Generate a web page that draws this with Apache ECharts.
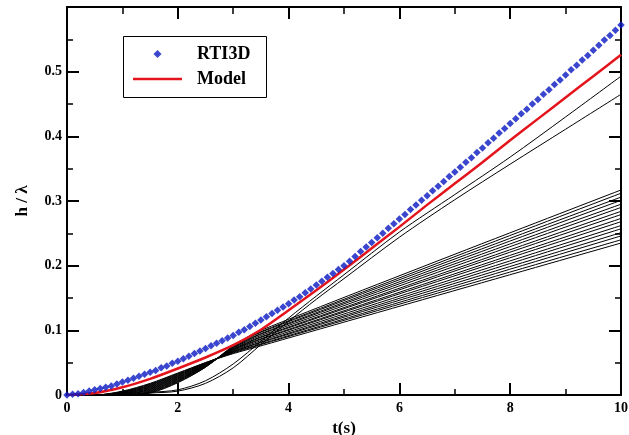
<!DOCTYPE html>
<html>
<head>
<meta charset="utf-8">
<script src="https://cdn.jsdelivr.net/npm/echarts@6/dist/echarts.min.js"></script>
<style>
  html, body { margin: 0; padding: 0; background: #fff; }
  #chart { width: 629px; height: 435px; }
</style>
</head>
<body>
<div id="chart"></div>
<script>
// RTI3D simulation: mixing-zone height h/λ sampled every 0.1 s
const tRTI = [
  0.0, 0.1, 0.2, 0.3, 0.4, 0.5, 0.6, 0.7, 0.8, 0.9,
  1.0, 1.1, 1.2, 1.3, 1.4, 1.5, 1.6, 1.7, 1.8, 1.9,
  2.0, 2.1, 2.2, 2.3, 2.4, 2.5, 2.6, 2.7, 2.8, 2.9,
  3.0, 3.1, 3.2, 3.3, 3.4, 3.5, 3.6, 3.7, 3.8, 3.9,
  4.0, 4.1, 4.2, 4.3, 4.4, 4.5, 4.6, 4.7, 4.8, 4.9,
  5.0, 5.1, 5.2, 5.3, 5.4, 5.5, 5.6, 5.7, 5.8, 5.9,
  6.0, 6.1, 6.2, 6.3, 6.4, 6.5, 6.6, 6.7, 6.8, 6.9,
  7.0, 7.1, 7.2, 7.3, 7.4, 7.5, 7.6, 7.7, 7.8, 7.9,
  8.0, 8.1, 8.2, 8.3, 8.4, 8.5, 8.6, 8.7, 8.8, 8.9,
  9.0, 9.1, 9.2, 9.3, 9.4, 9.5, 9.6, 9.7, 9.8, 9.9,
  10.0
];
const hRTI = [
  0.000, 0.001, 0.002, 0.004, 0.006, 0.008, 0.010, 0.012, 0.014, 0.017,
  0.020, 0.023, 0.026, 0.029, 0.032, 0.035, 0.038, 0.042, 0.045, 0.049,
  0.052, 0.056, 0.060, 0.064, 0.068, 0.072, 0.076, 0.080, 0.084, 0.088,
  0.092, 0.097, 0.101, 0.106, 0.111, 0.116, 0.121, 0.126, 0.131, 0.136,
  0.141, 0.147, 0.152, 0.158, 0.164, 0.170, 0.176, 0.182, 0.188, 0.194,
  0.200, 0.207, 0.214, 0.222, 0.229, 0.236, 0.243, 0.250, 0.258, 0.265,
  0.272, 0.279, 0.287, 0.294, 0.301, 0.308, 0.316, 0.323, 0.330, 0.338,
  0.345, 0.352, 0.360, 0.367, 0.375, 0.382, 0.390, 0.397, 0.405, 0.412,
  0.420, 0.427, 0.435, 0.442, 0.450, 0.457, 0.465, 0.472, 0.480, 0.487,
  0.495, 0.503, 0.510, 0.518, 0.525, 0.533, 0.541, 0.549, 0.556, 0.564,
  0.572
];

// Model prediction
const tModel = [0, 0.5, 1, 1.5, 2, 2.5, 3, 3.5, 4, 4.5, 5, 5.5, 6, 6.5, 7, 7.5, 8, 8.5, 9, 9.5, 10];
const hModel = [0.000, 0.003, 0.012, 0.025, 0.041, 0.058, 0.077, 0.101, 0.131, 0.162, 0.194,
                0.227, 0.260, 0.294, 0.327, 0.360, 0.394, 0.427, 0.460, 0.493, 0.526];

// Two fast-growing individual runs
const tUpper = [0, 1, 1.5, 2, 2.5, 3, 3.5, 4, 4.5, 5, 6, 7, 8, 9, 10];
const hUpperA = [0, 0, 0.004, 0.008, 0.022, 0.048, 0.083, 0.119, 0.153, 0.186, 0.252, 0.310, 0.368, 0.430, 0.493];
const hUpperB = [0, 0, 0.003, 0.006, 0.018, 0.042, 0.078, 0.114, 0.148, 0.180, 0.244, 0.302, 0.357, 0.411, 0.465];

// Bundle of slower runs
const tBundle = [0, 0.5, 1, 1.5, 2, 2.5, 3, 3.5, 10];
const hBundle = [
  [0, 0, 0.006, 0.018, 0.034, 0.050, 0.064, 0.076, 0.235],
  [0, 0, 0.005, 0.017, 0.033, 0.050, 0.065, 0.078, 0.240],
  [0, 0, 0.005, 0.016, 0.032, 0.049, 0.066, 0.079, 0.246],
  [0, 0, 0.004, 0.015, 0.031, 0.049, 0.067, 0.081, 0.251],
  [0, 0, 0.004, 0.014, 0.030, 0.048, 0.067, 0.082, 0.257],
  [0, 0, 0.003, 0.013, 0.029, 0.048, 0.068, 0.084, 0.262],
  [0, 0, 0.003, 0.012, 0.028, 0.047, 0.069, 0.086, 0.268],
  [0, 0, 0.002, 0.011, 0.027, 0.047, 0.070, 0.087, 0.273],
  [0, 0, 0.002, 0.010, 0.026, 0.046, 0.070, 0.089, 0.279],
  [0, 0, 0.001, 0.009, 0.025, 0.046, 0.071, 0.090, 0.284],
  [0, 0, 0.001, 0.008, 0.024, 0.045, 0.072, 0.092, 0.290],
  [0, 0, 0.001, 0.007, 0.023, 0.045, 0.073, 0.094, 0.295],
  [0, 0, 0.000, 0.006, 0.022, 0.044, 0.073, 0.095, 0.301],
  [0, 0, 0.000, 0.005, 0.021, 0.044, 0.074, 0.097, 0.306],
  [0, 0, 0.000, 0.004, 0.020, 0.043, 0.075, 0.098, 0.312],
  [0, 0, 0.000, 0.003, 0.019, 0.043, 0.076, 0.100, 0.317]
];

const xTicks = ['0', '2', '4', '6', '8', '10'];
const yTicks = ['0', '0.1', '0.2', '0.3', '0.4', '0.5'];

const FONT = '"Liberation Serif", "Times New Roman", serif';
const pairs = (ts, hs) => ts.map((t, i) => [t, hs[i]]);

const blackLine = (ts, hs) => ({
  type: 'line',
  data: pairs(ts, hs),
  symbol: 'none',
  smooth: 0.3,
  silent: true,
  z: 1,
  lineStyle: { color: '#000', width: 1 }
});

const series = [];
hBundle.forEach(h => series.push(blackLine(tBundle, h)));
series.push(blackLine(tUpper, hUpperB));
series.push(blackLine(tUpper, hUpperA));
series.push({
  name: 'Model',
  type: 'line',
  data: pairs(tModel, hModel),
  symbol: 'none',
  smooth: 0.3,
  z: 3,
  lineStyle: { color: '#e4141c', width: 2.5 },
  itemStyle: { color: '#e4141c' }
});
series.push({
  name: 'RTI3D',
  type: 'scatter',
  data: pairs(tRTI, hRTI),
  symbol: 'diamond',
  symbolSize: 7.5,
  z: 4,
  itemStyle: { color: '#0818c0' }
});

const frameLine = { show: true, onZero: false, lineStyle: { color: '#000', width: 2 } };
const majorTick = len => ({ show: true, inside: true, length: len, lineStyle: { color: '#000', width: 2 } });
const minorTick = len => ({ show: true, splitNumber: 2, length: len, lineStyle: { color: '#000', width: 1.5 } });

const option = {
  animation: false,
  backgroundColor: '#fff',
  grid: { left: 67, right: 8, top: 7, bottom: 40, containLabel: false, outerBoundsMode: 'none' },
  legend: {
    left: 133,
    top: 45,
    orient: 'vertical',
    padding: 0,
    itemWidth: 49,
    itemHeight: 8,
    itemGap: 7,
    selectedMode: false,
    data: [
      { name: 'RTI3D', icon: 'path://M4,0 L8,4 L4,8 L0,4 Z' },
      { name: 'Model', icon: 'path://M0,0 L49,0 L49,2.5 L0,2.5 Z' }
    ],
    textStyle: {
      fontFamily: FONT, fontWeight: 'bold', fontSize: 18, color: '#000',
      padding: [0, 0, 0, 10], lineHeight: 18
    }
  },
  graphic: [{
    type: 'rect',
    shape: { x: 123.5, y: 36.5, width: 143, height: 61 },
    style: { fill: null, stroke: '#000', lineWidth: 1 },
    z: 10
  }],
  xAxis: [{
    type: 'value', min: 0, max: 10, interval: 2,
    name: 't(s)', nameLocation: 'middle', nameGap: 15,
    nameTextStyle: { fontFamily: FONT, fontWeight: 'bold', fontSize: 17, color: '#000' },
    axisLine: frameLine,
    axisTick: majorTick(12),
    minorTick: minorTick(6),
    splitLine: { show: false },
    axisLabel: {
      margin: 6, fontFamily: FONT, fontWeight: 'bold', fontSize: 14, color: '#000',
      formatter: v => xTicks[Math.round(v / 2)] || ''
    }
  }, {
    type: 'value', min: 0, max: 10, interval: 2, position: 'top',
    axisLine: frameLine,
    axisTick: majorTick(12),
    minorTick: minorTick(7),
    splitLine: { show: false },
    axisLabel: { show: false }
  }],
  yAxis: [{
    type: 'value', min: 0, max: 0.6, interval: 0.1,
    name: 'h / λ', nameLocation: 'middle', nameGap: 36,
    nameTextStyle: { fontFamily: FONT, fontWeight: 'bold', fontSize: 17, color: '#000' },
    axisLine: frameLine,
    axisTick: majorTick(12),
    minorTick: minorTick(6),
    splitLine: { show: false },
    axisLabel: {
      margin: 5, fontFamily: FONT, fontWeight: 'bold', fontSize: 14, color: '#000',
      formatter: v => yTicks[Math.round(v * 10)] || ''
    }
  }, {
    type: 'value', min: 0, max: 0.6, interval: 0.1, position: 'right',
    axisLine: frameLine,
    axisTick: majorTick(12),
    minorTick: minorTick(6),
    splitLine: { show: false },
    axisLabel: { show: false }
  }],
  series
};

const chart = echarts.init(document.getElementById('chart'), null, { renderer: 'canvas' });
chart.setOption(option);
</script>
</body>
</html>
